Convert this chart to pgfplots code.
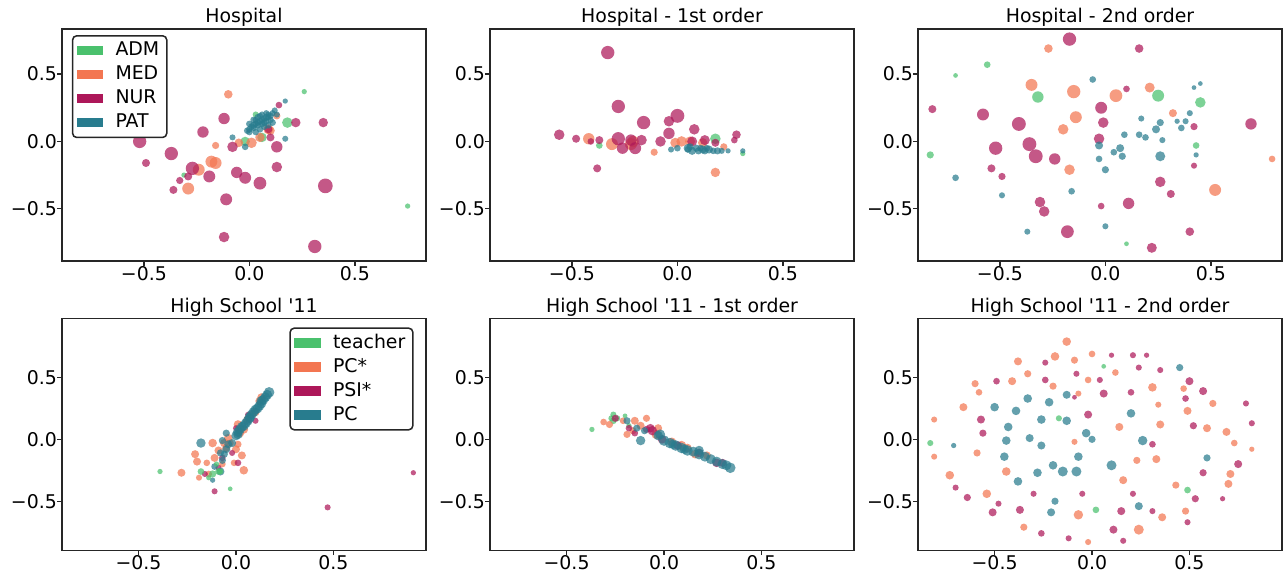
\documentclass[border=0pt]{standalone}
\usepackage{fontspec}
\setmainfont[Ligatures=TeXOff]{DejaVu Sans}
\usepackage{pgfplots}
\pgfplotsset{compat=1.18}

\definecolor{admc}{HTML}{4AC16D}
\definecolor{medc}{HTML}{F37651}
\definecolor{nurc}{HTML}{AD1759}
\definecolor{patc}{HTML}{287C8E}

\newcommand\fs{\fontsize{13.6}{16}\selectfont}

\pgfplotsset{
  bub/.style={only marks, scatter, mark=*, forget plot,
    point meta=\thisrow{r},
    visualization depends on={\thisrow{r} \as \rr},
    scatter/@pre marker code/.code={\scope[mark size=\rr, fill=#1, draw=#1, line width=0pt, draw opacity=0, fill opacity=0.72]},
    scatter/@post marker code/.code={\endscope}},
  legpatch/.style={legend image code/.code={\fill[#1, draw=none, sharp corners, line width=0pt] (0pt,-3.3pt) rectangle (19pt,3.3pt);}},
  panel/.style={scale only axis, width=262.08pt, height=167.04pt,
    anchor=north west, axis on top,
    axis line style={line width=1.1pt, black!85},
    tick align=outside, major tick length=3.5pt,
    tick style={line width=1pt, black!85},
    xtick pos=left, ytick pos=left,
    xtick={-0.5,0,0.5}, xticklabels={−0.5,0.0,0.5},
    ytick={-0.5,0,0.5}, yticklabels={−0.5,0.0,0.5},
    tick label style={font=\fs},
    xticklabel style={inner sep=0pt, anchor=north},
    yticklabel style={inner sep=0pt, anchor=east},
    title style={font=\fs, inner sep=0pt, yshift=-4.5pt},
    legend cell align=left,
    legend style={draw=black!85, line width=1.1pt, rounded corners=3pt,
      font=\fs, row sep=0pt, column sep=6.5pt, inner xsep=3pt, inner ysep=2pt,
      nodes={text height=10pt, text depth=2.5pt, inner sep=2.4pt}},
  },
  toprow/.style={xmin=-0.888, xmax=0.837, ymin=-0.888, ymax=0.835},
  botrow/.style={xmin=-0.893, xmax=0.975, ymin=-0.897, ymax=0.978},
}

\begin{document}
\begin{tikzpicture}
\useasboundingbox (0,0) rectangle (924.48pt,-414.72pt);

% ---------------- Hospital
\begin{axis}[panel, toprow, at={(44.64pt,-20.88pt)}, title={Hospital},
  legend style={at={(0.027,0.974)}, anchor=north west}]
\addplot[bub=admc] table[row sep=\\]{x y r\\ 0.26 0.37 1.9\\ 0.18 0.14 3.8\\ 0.75 -0.48 1.9\\ 0.03 0.20 2.2\\ -0.02 0.00 3.4\\ 0.06 0.03 3.4\\ -0.31 -0.25 1.9\\};
\addplot[bub=medc] table[row sep=\\]{x y r\\ -0.10 0.35 3.1\\ -0.16 -0.03 2.6\\ -0.18 -0.15 4.3\\ -0.16 -0.16 4.3\\ -0.24 -0.21 4.3\\ -0.29 -0.35 4.3\\ 0.13 0.19 2.6\\ 0.10 0.08 3.1\\ 0.05 0.03 3.4\\ 0.01 -0.01 3.8\\ -0.05 -0.01 3.1\\ 0.09 0.09 3.6\\};
\addplot[bub=nurc] table[row sep=\\]{x y r\\ -0.52 0.00 4.8\\ -0.49 -0.16 2.9\\ -0.37 -0.09 4.8\\ -0.22 0.07 4.1\\ -0.12 0.17 4.1\\ -0.27 -0.20 4.8\\ -0.33 -0.29 2.6\\ -0.29 -0.26 2.9\\ -0.36 -0.36 2.9\\ -0.19 -0.26 4.3\\ -0.11 -0.43 4.3\\ -0.06 -0.23 4.1\\ -0.02 -0.27 4.3\\ 0.05 -0.31 4.6\\ 0.13 -0.19 3.8\\ 0.13 -0.04 4.1\\ -0.08 -0.04 3.8\\ -0.12 -0.71 3.8\\ 0.31 -0.78 4.8\\ 0.36 -0.33 5.3\\ 0.35 0.14 3.4\\ 0.22 0.14 3.4\\ 0.14 0.27 2.4\\ 0.10 0.03 2.9\\ 0.09 0.09 2.9\\};
\addplot[bub=patc] table[row sep=\\]{x y r\\ 0.17 0.30 1.9\\ 0.17 0.02 2.2\\ -0.08 0.03 2.2\\ -0.02 -0.04 2.4\\ 0.00 0.09 2.4\\ 0.01 0.11 2.4\\ 0.02 0.12 2.6\\ 0.03 0.13 2.4\\ 0.04 0.14 2.4\\ 0.05 0.15 2.6\\ 0.06 0.16 2.4\\ 0.07 0.17 2.4\\ 0.08 0.18 2.6\\ 0.09 0.18 2.4\\ 0.10 0.19 2.4\\ 0.11 0.21 2.2\\ 0.12 0.23 2.2\\ 0.02 0.10 2.4\\ 0.04 0.12 2.4\\ 0.06 0.13 2.4\\ 0.07 0.14 2.4\\ 0.03 0.16 2.2\\ 0.05 0.19 2.2\\ 0.08 0.15 2.4\\ 0.00 0.07 2.4\\ 0.10 0.16 2.4\\ 0.09 0.20 2.2\\ -0.01 0.08 2.4\\ 0.00 0.13 2.4\\ 0.02 0.16 2.4\\ 0.04 0.18 2.4\\ 0.06 0.20 2.2\\ 0.08 0.21 2.2\\ 0.03 0.07 2.4\\ 0.05 0.09 2.4\\ 0.07 0.11 2.4\\ 0.09 0.12 2.4\\ 0.11 0.14 2.4\\ 0.13 0.20 2.2\\};
\addlegendimage{legpatch=admc}
\addlegendimage{legpatch=medc}
\addlegendimage{legpatch=nurc}
\addlegendimage{legpatch=patc}
\legend{ADM,MED,NUR,PAT}
\end{axis}

% ---------------- Hospital - 1st order
\begin{axis}[panel, toprow, at={(352.8pt,-20.88pt)}, title={Hospital - 1st order}]
\addplot[bub=admc] table[row sep=\\]{x y r\\ -0.37 -0.03 2.4\\ 0.18 0.02 3.8\\ 0.31 -0.09 1.9\\};
\addplot[bub=medc] table[row sep=\\]{x y r\\ -0.42 0.02 4.1\\ -0.31 -0.02 4.3\\ -0.22 -0.02 4.3\\ -0.21 0.00 4.1\\ -0.11 -0.08 2.6\\ -0.01 -0.01 3.6\\ 0.02 0.00 3.8\\ 0.06 0.00 3.6\\ 0.12 -0.01 3.4\\ 0.22 -0.04 2.6\\ 0.18 -0.23 3.4\\};
\addplot[bub=nurc] table[row sep=\\]{x y r\\ -0.33 0.66 4.8\\ -0.28 0.26 4.8\\ -0.16 0.14 4.8\\ -0.04 0.15 3.8\\ 0.00 0.19 5.0\\ 0.08 0.09 3.8\\ -0.04 0.06 4.1\\ -0.56 0.05 3.8\\ -0.48 0.02 2.9\\ -0.37 0.01 2.9\\ -0.41 0.00 2.4\\ -0.28 0.02 4.8\\ -0.26 -0.05 4.1\\ -0.22 0.01 4.1\\ -0.20 -0.05 4.3\\ -0.17 0.01 3.8\\ -0.08 0.00 3.8\\ 0.07 0.00 3.6\\ 0.13 0.01 3.6\\ 0.18 -0.01 2.9\\ 0.28 0.05 3.1\\ 0.27 0.01 2.4\\ -0.38 -0.20 2.9\\};
\addplot[bub=patc] table[row sep=\\]{x y r\\ -0.03 -0.06 2.2\\ 0.00 -0.05 2.4\\ 0.05 -0.05 3.1\\ 0.07 -0.07 2.9\\ 0.09 -0.05 2.6\\ 0.10 -0.07 2.6\\ 0.12 -0.06 2.9\\ 0.13 -0.07 2.6\\ 0.15 -0.06 2.9\\ 0.17 -0.07 2.4\\ 0.19 -0.07 2.6\\ 0.21 -0.07 2.2\\ 0.24 -0.07 1.9\\ 0.31 -0.07 1.9\\ 0.05 -0.06 2.4\\ 0.14 -0.05 2.4\\ 0.06 -0.04 2.6\\ 0.11 -0.05 2.4\\};
\end{axis}

% ---------------- Hospital - 2nd order
\begin{axis}[panel, toprow, at={(660.96pt,-20.88pt)}, title={Hospital - 2nd order}]
\addplot[bub=admc] table[row sep=\\]{x y r\\ -0.56 0.57 2.4\\ -0.71 0.49 1.7\\ -0.32 0.33 4.1\\ 0.25 0.34 4.3\\ 0.45 0.29 3.8\\ 0.43 -0.03 2.4\\ -0.83 -0.10 2.6\\ 0.10 -0.76 1.7\\};
\addplot[bub=medc] table[row sep=\\]{x y r\\ -0.27 0.69 3.1\\ -0.35 0.42 4.3\\ -0.15 0.37 4.8\\ 0.05 0.34 4.6\\ 0.21 0.40 3.6\\ -0.14 0.18 4.3\\ -0.20 0.09 3.8\\ 0.32 0.21 2.9\\ -0.17 -0.21 3.8\\ 0.79 -0.13 2.4\\ 0.52 -0.36 4.3\\};
\addplot[bub=nurc] table[row sep=\\]{x y r\\ -0.17 0.76 4.8\\ 0.16 0.69 3.1\\ 0.10 0.39 2.4\\ -0.82 0.24 2.9\\ -0.58 0.20 4.3\\ -0.41 0.13 5.0\\ -0.02 0.25 4.3\\ -0.01 0.14 3.8\\ -0.03 0.02 3.8\\ -0.52 -0.05 4.8\\ -0.36 -0.02 5.0\\ -0.33 -0.11 5.0\\ -0.24 -0.13 4.1\\ -0.54 -0.20 2.9\\ -0.49 -0.26 2.6\\ -0.31 -0.45 3.8\\ -0.29 -0.52 3.8\\ -0.18 -0.67 4.6\\ -0.02 -0.48 2.4\\ 0.11 -0.46 4.1\\ 0.26 -0.30 3.8\\ 0.31 -0.39 2.9\\ 0.42 -0.18 2.2\\ 0.42 0.11 2.6\\ 0.69 0.13 4.1\\ 0.40 -0.67 3.1\\ 0.22 -0.79 3.6\\};
\addplot[bub=patc] table[row sep=\\]{x y r\\ -0.06 0.46 2.4\\ 0.42 0.40 1.7\\ 0.45 0.43 1.7\\ 0.40 0.21 2.2\\ 0.17 0.17 2.2\\ 0.26 0.14 2.6\\ 0.34 0.15 1.9\\ 0.38 0.15 2.2\\ 0.36 0.10 2.4\\ 0.24 0.09 2.9\\ 0.09 0.05 2.4\\ 0.16 0.05 2.4\\ 0.19 0.03 2.4\\ 0.27 0.01 2.2\\ -0.03 -0.03 2.9\\ 0.07 -0.05 2.9\\ 0.04 -0.08 2.4\\ 0.08 -0.11 2.6\\ 0.26 -0.11 3.6\\ 0.43 -0.10 1.9\\ -0.03 -0.13 2.4\\ 0.00 -0.21 2.6\\ -0.71 -0.27 2.4\\ -0.49 -0.40 2.2\\ -0.16 -0.37 2.4\\ -0.37 -0.67 2.2\\ 0.00 -0.63 2.2\\};
\end{axis}

% ---------------- High School '11
\begin{axis}[panel, botrow, at={(44.64pt,-229.2pt)}, title={High School '11},
  legend style={at={(0.966,0.961)}, anchor=north east}]
\addplot[bub=medc] table[row sep=\\]{x y r\\ -0.28 -0.27 2.9\\ -0.21 -0.12 2.9\\ -0.20 -0.18 2.9\\ -0.12 -0.03 3.1\\ -0.15 -0.19 2.4\\ 0.04 -0.25 3.1\\ 0.03 -0.13 2.9\\ -0.01 -0.19 2.4\\ -0.19 -0.31 2.2\\ -0.11 -0.15 2.9\\ -0.09 -0.09 2.9\\ -0.05 -0.07 2.9\\ 0.01 -0.04 2.6\\ 0.01 0.12 3.1\\ 0.06 0.16 3.1\\ 0.12 0.31 2.9\\ 0.13 0.34 2.9\\ 0.02 0.05 3.1\\ -0.04 0.01 3.1\\ -0.07 -0.20 2.4\\ -0.14 -0.28 2.4\\ 0.08 0.20 2.9\\ -0.03 -0.03 2.6\\ 0.04 0.08 3.1\\ 0.10 0.22 2.9\\ -0.06 -0.03 3.1\\ 0.00 -0.08 2.9\\};
\addplot[bub=nurc] table[row sep=\\]{x y r\\ 0.91 -0.27 1.9\\ 0.47 -0.55 2.2\\ -0.11 -0.42 2.2\\ 0.10 0.15 2.2\\ 0.01 -0.19 2.4\\ -0.02 -0.11 2.2\\ -0.07 -0.15 2.4\\ -0.16 -0.28 2.2\\ -0.09 -0.23 2.2\\ 0.00 0.09 2.2\\ 0.06 0.20 1.9\\};
\addplot[bub=patc] table[row sep=\\]{x y r\\ -0.18 -0.03 3.4\\ -0.05 0.05 2.6\\ -0.07 -0.01 2.6\\ -0.08 -0.26 2.9\\ -0.12 -0.33 1.9\\ -0.08 -0.11 2.6\\ -0.11 -0.22 2.4\\ -0.02 -0.03 2.9\\ 0.00 0.03 3.4\\ 0.01 0.04 3.4\\ 0.01 0.06 3.6\\ 0.02 0.08 3.6\\ 0.03 0.10 3.6\\ 0.04 0.11 3.6\\ 0.05 0.13 3.6\\ 0.06 0.15 3.6\\ 0.07 0.17 3.6\\ 0.07 0.18 3.6\\ 0.08 0.20 3.6\\ 0.09 0.22 3.6\\ 0.10 0.24 3.6\\ 0.11 0.25 3.6\\ 0.12 0.27 3.6\\ 0.13 0.29 3.6\\ 0.13 0.31 3.6\\ 0.14 0.32 3.6\\ 0.15 0.34 3.6\\ 0.16 0.36 3.6\\ 0.17 0.38 3.8\\ -0.04 -0.04 2.9\\ -0.05 -0.08 2.9\\ -0.06 -0.12 2.6\\ -0.07 -0.17 2.6\\};
\addplot[bub=admc] table[row sep=\\]{x y r\\ -0.39 -0.26 1.9\\ -0.03 -0.40 1.7\\ -0.18 -0.26 2.4\\ -0.12 -0.28 2.6\\ -0.09 -0.26 2.4\\ -0.14 -0.31 1.9\\ -0.10 -0.20 1.9\\ -0.08 -0.26 2.2\\};
\addlegendimage{legpatch=admc}
\addlegendimage{legpatch=medc}
\addlegendimage{legpatch=nurc}
\addlegendimage{legpatch=patc}
\legend{teacher,PC*,PSI*,PC}
\end{axis}

% ---------------- High School '11 - 1st order
\begin{axis}[panel, botrow, at={(352.8pt,-229.2pt)}, title={High School '11 - 1st order}]
\addplot[bub=admc] table[row sep=\\]{x y r\\ -0.37 0.08 1.9\\ -0.26 0.20 2.2\\ -0.26 0.15 2.4\\ -0.24 0.17 2.2\\ -0.20 0.19 1.7\\ -0.18 0.11 1.9\\ -0.27 0.17 2.2\\};
\addplot[bub=medc] table[row sep=\\]{x y r\\ -0.31 0.14 2.4\\ -0.28 0.12 2.6\\ -0.09 0.17 2.6\\ -0.19 0.04 2.6\\ -0.15 0.15 2.9\\ -0.12 0.11 2.9\\ -0.03 0.09 2.9\\ -0.21 0.15 2.4\\ -0.16 0.07 2.6\\ 0.09 -0.05 3.4\\ 0.16 -0.12 3.1\\ -0.04 0.04 3.4\\ 0.04 -0.02 3.1\\ 0.22 -0.13 2.9\\ 0.12 -0.07 3.1\\};
\addplot[bub=nurc] table[row sep=\\]{x y r\\ -0.25 0.17 2.6\\ -0.15 0.05 2.4\\ -0.06 0.07 3.4\\ -0.01 0.00 3.1\\ 0.18 -0.11 3.1\\ 0.27 -0.19 3.1\\ -0.18 0.09 2.4\\ -0.09 0.08 2.6\\ -0.07 0.09 3.1\\ 0.30 -0.19 2.9\\ 0.07 -0.05 3.1\\};
\addplot[bub=patc] table[row sep=\\]{x y r\\ -0.12 -0.01 3.4\\ -0.19 0.15 2.6\\ -0.14 0.09 2.6\\ -0.10 0.07 2.6\\ -0.03 0.03 3.4\\ -0.02 0.04 3.6\\ 0.00 -0.01 3.8\\ 0.03 -0.03 3.8\\ 0.06 -0.05 3.8\\ 0.09 -0.07 3.8\\ 0.12 -0.09 3.8\\ 0.15 -0.10 3.6\\ 0.18 -0.12 3.8\\ 0.21 -0.14 3.6\\ 0.24 -0.16 3.6\\ 0.27 -0.18 3.6\\ 0.30 -0.20 3.6\\ 0.32 -0.21 3.6\\ 0.34 -0.23 3.8\\ 0.18 -0.09 3.4\\ 0.045 -0.04 3.4\\ 0.105 -0.08 3.4\\};
\end{axis}

% ---------------- High School '11 - 2nd order
\begin{axis}[panel, botrow, at={(660.96pt,-229.2pt)}, title={High School '11 - 2nd order}]
\addplot[bub=medc] table[row sep=\\]{x y r\\ -0.13 0.79 3.1\\ -0.19 0.67 3.1\\ 0.00 0.69 2.4\\ -0.09 0.64 2.6\\ -0.38 0.63 2.9\\ -0.33 0.53 2.6\\ 0.12 0.54 2.4\\ -0.02 0.48 2.4\\ -0.41 0.47 2.9\\ -0.20 0.43 2.6\\ -0.07 0.37 2.2\\ -0.60 0.45 2.6\\ -0.58 0.38 2.4\\ -0.66 0.26 2.9\\ -0.81 0.16 2.2\\ -0.81 -0.14 2.2\\ -0.59 -0.11 2.6\\ -0.73 -0.29 3.1\\ -0.44 -0.26 3.1\\ -0.54 -0.44 3.1\\ -0.35 -0.71 2.6\\ -0.07 -0.61 3.4\\ -0.02 -0.83 2.2\\ 0.24 -0.73 3.6\\ 0.36 -0.63 2.9\\ 0.48 -0.58 2.6\\ 0.43 -0.37 2.6\\ 0.16 -0.33 2.9\\ 0.23 -0.17 2.6\\ 0.33 -0.16 2.9\\ 0.14 0.10 2.9\\ -0.09 -0.02 2.2\\ 0.35 0.12 2.9\\ 0.34 0.28 2.2\\ 0.31 0.42 3.1\\ 0.47 0.41 2.4\\ 0.49 0.23 2.9\\ 0.62 0.29 2.6\\ 0.59 0.09 2.9\\ 0.69 0.06 2.9\\ 0.73 -0.03 2.4\\ 0.82 -0.08 1.9\\ 0.71 -0.28 2.9\\ 0.70 -0.36 2.9\\};
\addplot[bub=nurc] table[row sep=\\]{x y r\\ 0.10 0.68 1.9\\ 0.21 0.68 2.2\\ 0.28 0.68 1.9\\ 0.24 0.58 2.2\\ 0.35 0.56 2.2\\ -0.24 0.62 2.2\\ -0.08 0.53 2.2\\ -0.24 0.48 2.4\\ 0.04 0.48 2.2\\ -0.49 0.47 2.4\\ 0.06 0.37 2.9\\ 0.20 0.38 2.4\\ -0.09 0.34 1.7\\ 0.50 0.47 2.9\\ 0.57 0.39 2.9\\ 0.48 0.33 2.4\\ 0.79 0.29 2.2\\ 0.82 0.13 2.2\\ 0.52 0.11 2.6\\ -0.02 0.20 2.9\\ -0.57 0.16 2.9\\ -0.56 0.05 2.6\\ 0.31 -0.04 2.4\\ 0.75 -0.20 2.9\\ 0.57 -0.27 2.6\\ 0.67 -0.48 1.9\\ 0.53 -0.48 2.6\\ 0.49 -0.67 2.2\\ 0.31 -0.58 2.2\\ 0.21 -0.44 2.2\\ 0.15 -0.58 2.9\\ 0.11 -0.73 2.9\\ 0.16 -0.82 2.2\\ -0.12 -0.80 2.2\\ -0.26 -0.76 2.4\\ -0.05 -0.44 2.2\\ -0.30 -0.44 2.2\\ -0.37 -0.57 2.9\\ -0.48 -0.52 2.2\\ -0.51 -0.59 2.9\\ -0.64 -0.47 2.6\\ -0.70 -0.39 2.2\\};
\addplot[bub=patc] table[row sep=\\]{x y r\\ 0.45 0.58 2.6\\ -0.13 0.36 2.9\\ -0.33 0.33 3.1\\ -0.22 0.30 3.1\\ -0.50 0.26 3.1\\ -0.39 0.23 3.1\\ 0.20 0.21 3.1\\ -0.13 0.15 3.1\\ -0.26 0.16 3.1\\ -0.43 0.10 3.1\\ -0.03 0.05 3.1\\ 0.00 0.00 2.6\\ -0.32 0.01 2.9\\ -0.44 -0.01 3.1\\ -0.26 -0.05 2.9\\ 0.26 -0.01 3.4\\ -0.71 -0.05 1.9\\ -0.45 -0.14 3.1\\ -0.07 -0.14 3.1\\ -0.20 -0.21 3.1\\ 0.10 -0.21 3.6\\ -0.15 -0.26 3.6\\ -0.08 -0.26 3.6\\ -0.28 -0.27 3.1\\ -0.38 -0.34 3.1\\ 0.59 -0.15 2.6\\ -0.19 -0.50 2.6\\ -0.21 -0.59 2.9\\ 0.24 -0.54 2.9\\};
\addplot[bub=admc] table[row sep=\\]{x y r\\ 0.06 0.59 1.7\\ -0.17 0.17 2.2\\ -0.83 -0.03 2.2\\ 0.02 -0.57 2.4\\ 0.49 -0.41 2.4\\};
\end{axis}
\end{tikzpicture}
\end{document}
